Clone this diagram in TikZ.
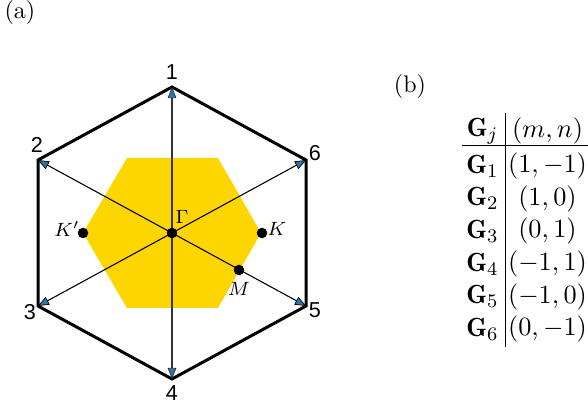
\documentclass[tikz,border=0pt]{standalone}
\usepackage{fontspec}
\newfontfamily\numfont{Liberation Sans}
\usetikzlibrary{arrows.meta}
\definecolor{hexyellow}{RGB}{253,213,0}
\definecolor{tipblue}{RGB}{40,118,178}
\begin{document}
\begin{tikzpicture}[x=0.41667pt,y=-0.41667pt,
  outerhex/.style={line width=1.25pt, line join=miter},
  recip/.style={line width=0.45pt, -{Triangle[length=4.6pt,width=3.6pt,fill=tipblue,line width=0.3pt]}},
  vrecip/.style={recip, line width=0.6pt, draw=black!80},
  vnum/.style={font=\numfont\fontsize{9}{11}\selectfont, inner sep=0pt},
  kpt/.style={circle, fill=black, minimum size=4.4pt, inner sep=0pt},
  klabel/.style={font=\fontsize{8.5}{10}\selectfont, inner sep=0pt},
  cell/.style={inner sep=0pt, anchor=center, font=\fontsize{10.95}{13.6}\selectfont}]
\useasboundingbox (0,0) rectangle (588,409);
% yellow first Brillouin zone
\fill[hexyellow] (127,158) -- (218,158) -- (261,233) -- (218,308) -- (127,308) -- (83,233) -- cycle;
% vertices
\coordinate (G) at (172,233);
\coordinate (v1) at (172,87);
\coordinate (v2) at (38,160);
\coordinate (v3) at (38,306);
\coordinate (v4) at (172,379);
\coordinate (v5) at (306,306);
\coordinate (v6) at (306,160);
\draw[outerhex] (v1) -- (v2) -- (v3) -- (v4) -- (v5) -- (v6) -- cycle;
\foreach \i in {2,3,5,6} {\draw[recip] (G) -- (v\i);}
\draw[vrecip] (G) -- (v1);
\draw[vrecip] (G) -- (v4);
% numbers
\node[vnum] (n1) at (172,72) {1};
\node[vnum] (n2) at (37,145) {2};
\node[vnum] (n3) at (30,312) {3};
\node[vnum] (n4) at (172,393) {4};
\node[vnum] (n5) at (315,310) {5};
\node[vnum] (n6) at (315,153) {6};
% points
\node[kpt] (Gam) at (G) {};
\node[kpt] (Kp) at (83,233) {};
\node[kpt] (K) at (262,233) {};
\node[kpt] (M) at (239,270) {};
\node[klabel] (lGam) at (182,217) {$\Gamma$};
\node[klabel] (lKp) at (67,229) {$K'$};
\node[klabel] (lK) at (277,229) {$K$};
\node[klabel] (lM) at (239,289) {$M$};
% panel labels
\node[inner sep=0pt] (pa) at (20,13) {(a)};
\node[inner sep=0pt] (pb) at (410,87) {(b)};
% table
\draw[line width=0.4pt] (505,113) -- (505,347);
\draw[line width=0.4pt] (462,145) -- (588,145);
\node[cell] (h1) at (482.5,131) {$\mathbf{G}_j$};
\node[cell] (h2) at (547.5,131) {$(m,n)$};
\node[cell] (a1) at (482.5,166) {$\mathbf{G}_1$};
\node[cell] (b1) at (547.5,166) {$(1,-1)$};
\node[cell] (a2) at (482.5,198.6) {$\mathbf{G}_2$};
\node[cell] (b2) at (547.5,198.6) {$(1,0)$};
\node[cell] (a3) at (482.5,231.3) {$\mathbf{G}_3$};
\node[cell] (b3) at (547.5,231.3) {$(0,1)$};
\node[cell] (a4) at (482.5,264) {$\mathbf{G}_4$};
\node[cell] (b4) at (547.5,264) {$(-1,1)$};
\node[cell] (a5) at (482.5,296.6) {$\mathbf{G}_5$};
\node[cell] (b5) at (547.5,296.6) {$(-1,0)$};
\node[cell] (a6) at (482.5,329.3) {$\mathbf{G}_6$};
\node[cell] (b6) at (547.5,329.3) {$(0,-1)$};
\end{tikzpicture}
\end{document}
